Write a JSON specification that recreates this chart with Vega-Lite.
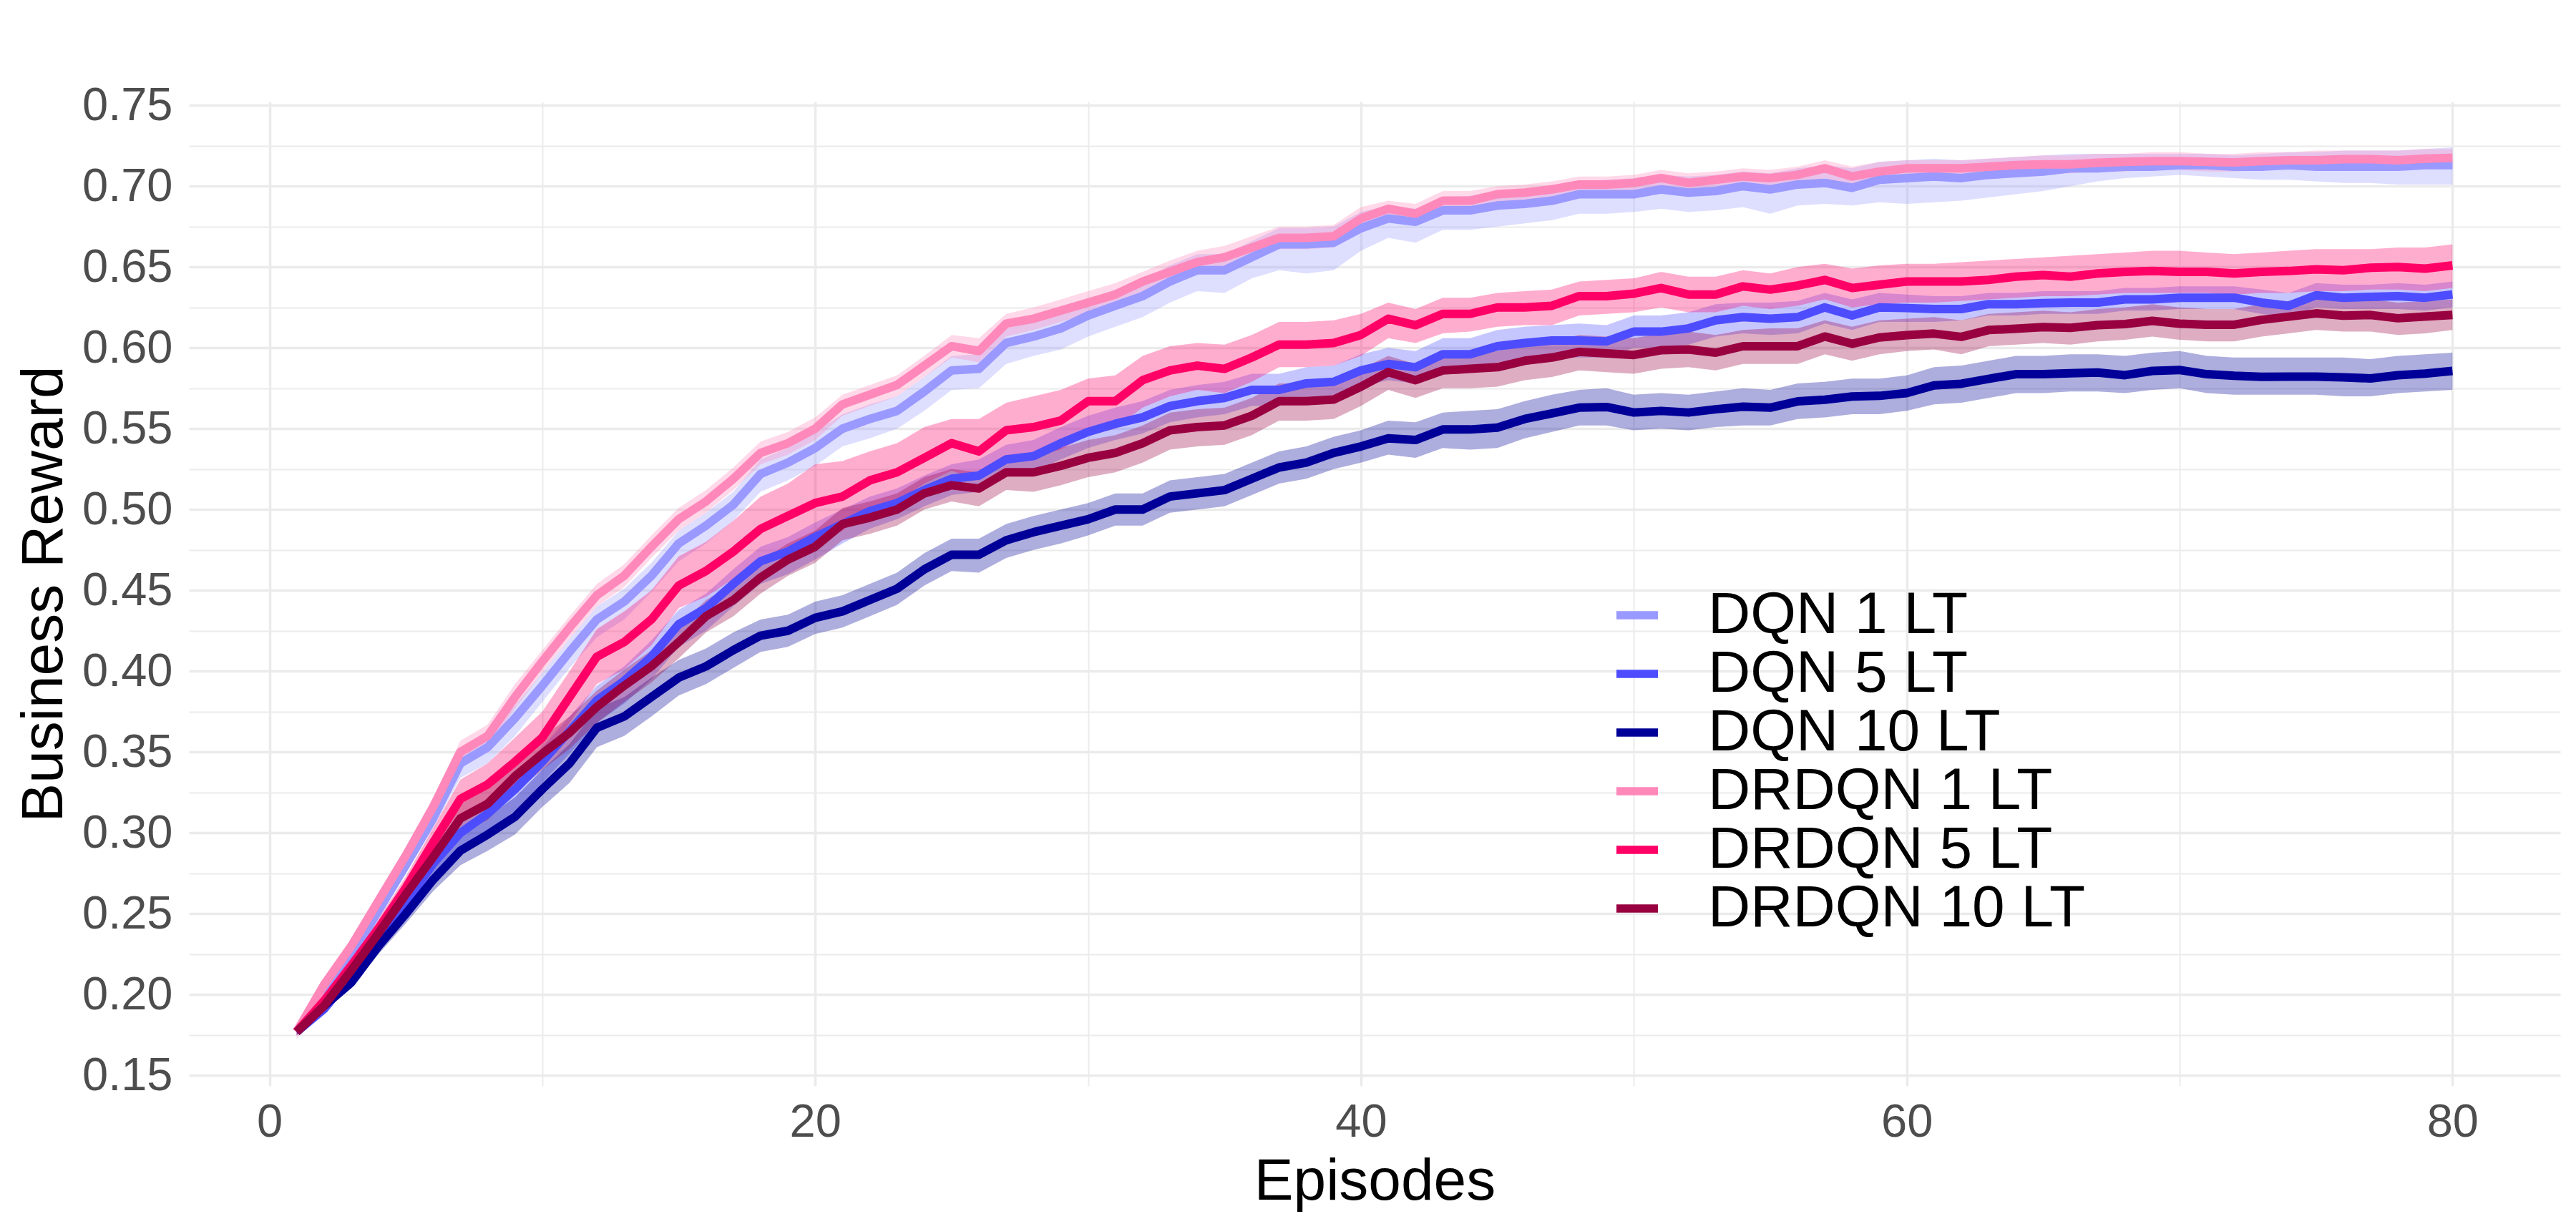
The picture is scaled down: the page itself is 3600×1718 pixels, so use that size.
{
"$schema": "https://vega.github.io/schema/vega-lite/v6.json",
"width": 3314, "height": 1376,
"autosize": {"type": "none"},
"padding": {"left": 264, "top": 142, "right": 22, "bottom": 200},
"background": "white",
"config": {
  "view": {"stroke": null},
  "axis": {"domain": false, "ticks": false, "tickSize": 0, "labelFont": "Liberation Sans", "labelFontSize": 65, "labelColor": "#4D4D4D", "titleFont": "Liberation Sans", "titleFontSize": 82, "titleFontWeight": "normal", "titleColor": "black", "gridColor": "#EBEBEB", "labelOverlap": false, "labelFlush": false},
  "legend": {"title": null, "orient": "none", "legendX": 1983, "legendY": 677, "symbolType": "stroke", "symbolSize": 3364, "symbolStrokeWidth": 11.5, "symbolOpacity": 1, "labelFont": "Liberation Sans", "labelFontSize": 82, "labelColor": "black", "labelOffset": 58, "rowPadding": -5, "padding": 0, "labelLimit": 0}
},
"datasets": {"d": [
{"s":"DQN 1 LT","e":1,"m":0.177,"l":0.174,"h":0.179},
{"s":"DQN 1 LT","e":2,"m":0.200,"l":0.197,"h":0.203},
{"s":"DQN 1 LT","e":3,"m":0.224,"l":0.220,"h":0.227},
{"s":"DQN 1 LT","e":4,"m":0.252,"l":0.248,"h":0.256},
{"s":"DQN 1 LT","e":5,"m":0.280,"l":0.275,"h":0.284},
{"s":"DQN 1 LT","e":6,"m":0.309,"l":0.303,"h":0.315},
{"s":"DQN 1 LT","e":7,"m":0.343,"l":0.334,"h":0.350},
{"s":"DQN 1 LT","e":8,"m":0.353,"l":0.343,"h":0.361},
{"s":"DQN 1 LT","e":9,"m":0.371,"l":0.360,"h":0.379},
{"s":"DQN 1 LT","e":10,"m":0.391,"l":0.381,"h":0.399},
{"s":"DQN 1 LT","e":11,"m":0.412,"l":0.402,"h":0.420},
{"s":"DQN 1 LT","e":12,"m":0.432,"l":0.421,"h":0.440},
{"s":"DQN 1 LT","e":13,"m":0.443,"l":0.432,"h":0.451},
{"s":"DQN 1 LT","e":14,"m":0.459,"l":0.449,"h":0.467},
{"s":"DQN 1 LT","e":15,"m":0.479,"l":0.468,"h":0.487},
{"s":"DQN 1 LT","e":16,"m":0.490,"l":0.479,"h":0.498},
{"s":"DQN 1 LT","e":17,"m":0.503,"l":0.493,"h":0.511},
{"s":"DQN 1 LT","e":18,"m":0.522,"l":0.511,"h":0.531},
{"s":"DQN 1 LT","e":19,"m":0.529,"l":0.518,"h":0.538},
{"s":"DQN 1 LT","e":20,"m":0.538,"l":0.527,"h":0.548},
{"s":"DQN 1 LT","e":21,"m":0.550,"l":0.539,"h":0.559},
{"s":"DQN 1 LT","e":22,"m":0.556,"l":0.544,"h":0.565},
{"s":"DQN 1 LT","e":23,"m":0.561,"l":0.550,"h":0.570},
{"s":"DQN 1 LT","e":24,"m":0.573,"l":0.561,"h":0.582},
{"s":"DQN 1 LT","e":25,"m":0.586,"l":0.574,"h":0.595},
{"s":"DQN 1 LT","e":26,"m":0.587,"l":0.575,"h":0.596},
{"s":"DQN 1 LT","e":27,"m":0.603,"l":0.590,"h":0.612},
{"s":"DQN 1 LT","e":28,"m":0.607,"l":0.595,"h":0.616},
{"s":"DQN 1 LT","e":29,"m":0.612,"l":0.599,"h":0.621},
{"s":"DQN 1 LT","e":30,"m":0.620,"l":0.607,"h":0.630},
{"s":"DQN 1 LT","e":31,"m":0.626,"l":0.613,"h":0.636},
{"s":"DQN 1 LT","e":32,"m":0.632,"l":0.619,"h":0.642},
{"s":"DQN 1 LT","e":33,"m":0.641,"l":0.628,"h":0.651},
{"s":"DQN 1 LT","e":34,"m":0.648,"l":0.635,"h":0.658},
{"s":"DQN 1 LT","e":35,"m":0.648,"l":0.634,"h":0.658},
{"s":"DQN 1 LT","e":36,"m":0.656,"l":0.643,"h":0.666},
{"s":"DQN 1 LT","e":37,"m":0.664,"l":0.648,"h":0.674},
{"s":"DQN 1 LT","e":38,"m":0.664,"l":0.646,"h":0.674},
{"s":"DQN 1 LT","e":39,"m":0.665,"l":0.648,"h":0.675},
{"s":"DQN 1 LT","e":40,"m":0.674,"l":0.660,"h":0.684},
{"s":"DQN 1 LT","e":41,"m":0.680,"l":0.668,"h":0.688},
{"s":"DQN 1 LT","e":42,"m":0.678,"l":0.665,"h":0.686},
{"s":"DQN 1 LT","e":43,"m":0.685,"l":0.673,"h":0.693},
{"s":"DQN 1 LT","e":44,"m":0.685,"l":0.673,"h":0.694},
{"s":"DQN 1 LT","e":45,"m":0.688,"l":0.675,"h":0.697},
{"s":"DQN 1 LT","e":46,"m":0.689,"l":0.677,"h":0.698},
{"s":"DQN 1 LT","e":47,"m":0.691,"l":0.679,"h":0.700},
{"s":"DQN 1 LT","e":48,"m":0.695,"l":0.683,"h":0.703},
{"s":"DQN 1 LT","e":49,"m":0.695,"l":0.683,"h":0.704},
{"s":"DQN 1 LT","e":50,"m":0.695,"l":0.684,"h":0.705},
{"s":"DQN 1 LT","e":51,"m":0.698,"l":0.686,"h":0.707},
{"s":"DQN 1 LT","e":52,"m":0.696,"l":0.684,"h":0.706},
{"s":"DQN 1 LT","e":53,"m":0.697,"l":0.685,"h":0.707},
{"s":"DQN 1 LT","e":54,"m":0.700,"l":0.687,"h":0.709},
{"s":"DQN 1 LT","e":55,"m":0.698,"l":0.683,"h":0.708},
{"s":"DQN 1 LT","e":56,"m":0.701,"l":0.688,"h":0.711},
{"s":"DQN 1 LT","e":57,"m":0.702,"l":0.689,"h":0.713},
{"s":"DQN 1 LT","e":58,"m":0.699,"l":0.688,"h":0.711},
{"s":"DQN 1 LT","e":59,"m":0.704,"l":0.690,"h":0.715},
{"s":"DQN 1 LT","e":60,"m":0.705,"l":0.689,"h":0.716},
{"s":"DQN 1 LT","e":61,"m":0.706,"l":0.690,"h":0.717},
{"s":"DQN 1 LT","e":62,"m":0.705,"l":0.691,"h":0.716},
{"s":"DQN 1 LT","e":63,"m":0.707,"l":0.693,"h":0.717},
{"s":"DQN 1 LT","e":64,"m":0.708,"l":0.695,"h":0.718},
{"s":"DQN 1 LT","e":65,"m":0.709,"l":0.697,"h":0.719},
{"s":"DQN 1 LT","e":66,"m":0.711,"l":0.700,"h":0.720},
{"s":"DQN 1 LT","e":67,"m":0.711,"l":0.703,"h":0.720},
{"s":"DQN 1 LT","e":68,"m":0.712,"l":0.705,"h":0.720},
{"s":"DQN 1 LT","e":69,"m":0.712,"l":0.706,"h":0.720},
{"s":"DQN 1 LT","e":70,"m":0.713,"l":0.707,"h":0.720},
{"s":"DQN 1 LT","e":71,"m":0.713,"l":0.706,"h":0.720},
{"s":"DQN 1 LT","e":72,"m":0.712,"l":0.705,"h":0.719},
{"s":"DQN 1 LT","e":73,"m":0.712,"l":0.704,"h":0.720},
{"s":"DQN 1 LT","e":74,"m":0.713,"l":0.704,"h":0.721},
{"s":"DQN 1 LT","e":75,"m":0.712,"l":0.703,"h":0.721},
{"s":"DQN 1 LT","e":76,"m":0.712,"l":0.702,"h":0.722},
{"s":"DQN 1 LT","e":77,"m":0.712,"l":0.702,"h":0.722},
{"s":"DQN 1 LT","e":78,"m":0.712,"l":0.701,"h":0.722},
{"s":"DQN 1 LT","e":79,"m":0.713,"l":0.701,"h":0.723},
{"s":"DQN 1 LT","e":80,"m":0.713,"l":0.701,"h":0.724},
{"s":"DQN 5 LT","e":1,"m":0.177,"l":0.175,"h":0.179},
{"s":"DQN 5 LT","e":2,"m":0.191,"l":0.188,"h":0.194},
{"s":"DQN 5 LT","e":3,"m":0.212,"l":0.208,"h":0.216},
{"s":"DQN 5 LT","e":4,"m":0.234,"l":0.229,"h":0.239},
{"s":"DQN 5 LT","e":5,"m":0.257,"l":0.251,"h":0.263},
{"s":"DQN 5 LT","e":6,"m":0.281,"l":0.273,"h":0.288},
{"s":"DQN 5 LT","e":7,"m":0.300,"l":0.290,"h":0.309},
{"s":"DQN 5 LT","e":8,"m":0.312,"l":0.299,"h":0.321},
{"s":"DQN 5 LT","e":9,"m":0.327,"l":0.314,"h":0.336},
{"s":"DQN 5 LT","e":10,"m":0.344,"l":0.331,"h":0.353},
{"s":"DQN 5 LT","e":11,"m":0.363,"l":0.349,"h":0.372},
{"s":"DQN 5 LT","e":12,"m":0.382,"l":0.368,"h":0.391},
{"s":"DQN 5 LT","e":13,"m":0.394,"l":0.380,"h":0.403},
{"s":"DQN 5 LT","e":14,"m":0.409,"l":0.395,"h":0.419},
{"s":"DQN 5 LT","e":15,"m":0.429,"l":0.415,"h":0.438},
{"s":"DQN 5 LT","e":16,"m":0.439,"l":0.425,"h":0.448},
{"s":"DQN 5 LT","e":17,"m":0.454,"l":0.440,"h":0.463},
{"s":"DQN 5 LT","e":18,"m":0.468,"l":0.454,"h":0.477},
{"s":"DQN 5 LT","e":19,"m":0.474,"l":0.460,"h":0.483},
{"s":"DQN 5 LT","e":20,"m":0.483,"l":0.469,"h":0.492},
{"s":"DQN 5 LT","e":21,"m":0.491,"l":0.479,"h":0.500},
{"s":"DQN 5 LT","e":22,"m":0.499,"l":0.488,"h":0.508},
{"s":"DQN 5 LT","e":23,"m":0.504,"l":0.494,"h":0.513},
{"s":"DQN 5 LT","e":24,"m":0.512,"l":0.502,"h":0.521},
{"s":"DQN 5 LT","e":25,"m":0.519,"l":0.509,"h":0.528},
{"s":"DQN 5 LT","e":26,"m":0.521,"l":0.511,"h":0.531},
{"s":"DQN 5 LT","e":27,"m":0.531,"l":0.521,"h":0.540},
{"s":"DQN 5 LT","e":28,"m":0.533,"l":0.523,"h":0.543},
{"s":"DQN 5 LT","e":29,"m":0.541,"l":0.531,"h":0.551},
{"s":"DQN 5 LT","e":30,"m":0.548,"l":0.538,"h":0.558},
{"s":"DQN 5 LT","e":31,"m":0.553,"l":0.543,"h":0.563},
{"s":"DQN 5 LT","e":32,"m":0.557,"l":0.547,"h":0.567},
{"s":"DQN 5 LT","e":33,"m":0.564,"l":0.554,"h":0.574},
{"s":"DQN 5 LT","e":34,"m":0.567,"l":0.557,"h":0.577},
{"s":"DQN 5 LT","e":35,"m":0.569,"l":0.559,"h":0.579},
{"s":"DQN 5 LT","e":36,"m":0.574,"l":0.564,"h":0.584},
{"s":"DQN 5 LT","e":37,"m":0.574,"l":0.564,"h":0.584},
{"s":"DQN 5 LT","e":38,"m":0.578,"l":0.568,"h":0.588},
{"s":"DQN 5 LT","e":39,"m":0.579,"l":0.569,"h":0.589},
{"s":"DQN 5 LT","e":40,"m":0.586,"l":0.576,"h":0.596},
{"s":"DQN 5 LT","e":41,"m":0.590,"l":0.580,"h":0.600},
{"s":"DQN 5 LT","e":42,"m":0.588,"l":0.578,"h":0.598},
{"s":"DQN 5 LT","e":43,"m":0.596,"l":0.586,"h":0.606},
{"s":"DQN 5 LT","e":44,"m":0.596,"l":0.586,"h":0.606},
{"s":"DQN 5 LT","e":45,"m":0.601,"l":0.591,"h":0.611},
{"s":"DQN 5 LT","e":46,"m":0.603,"l":0.593,"h":0.613},
{"s":"DQN 5 LT","e":47,"m":0.6045,"l":0.594,"h":0.614},
{"s":"DQN 5 LT","e":48,"m":0.6045,"l":0.594,"h":0.615},
{"s":"DQN 5 LT","e":49,"m":0.604,"l":0.594,"h":0.614},
{"s":"DQN 5 LT","e":50,"m":0.610,"l":0.600,"h":0.620},
{"s":"DQN 5 LT","e":51,"m":0.610,"l":0.600,"h":0.620},
{"s":"DQN 5 LT","e":52,"m":0.612,"l":0.602,"h":0.622},
{"s":"DQN 5 LT","e":53,"m":0.617,"l":0.607,"h":0.627},
{"s":"DQN 5 LT","e":54,"m":0.619,"l":0.609,"h":0.628},
{"s":"DQN 5 LT","e":55,"m":0.618,"l":0.608,"h":0.628},
{"s":"DQN 5 LT","e":56,"m":0.619,"l":0.609,"h":0.629},
{"s":"DQN 5 LT","e":57,"m":0.625,"l":0.615,"h":0.634},
{"s":"DQN 5 LT","e":58,"m":0.620,"l":0.611,"h":0.630},
{"s":"DQN 5 LT","e":59,"m":0.625,"l":0.616,"h":0.634},
{"s":"DQN 5 LT","e":60,"m":0.6246,"l":0.616,"h":0.633},
{"s":"DQN 5 LT","e":61,"m":0.624,"l":0.616,"h":0.632},
{"s":"DQN 5 LT","e":62,"m":0.624,"l":0.617,"h":0.632},
{"s":"DQN 5 LT","e":63,"m":0.627,"l":0.620,"h":0.634},
{"s":"DQN 5 LT","e":64,"m":0.627,"l":0.620,"h":0.634},
{"s":"DQN 5 LT","e":65,"m":0.6276,"l":0.621,"h":0.635},
{"s":"DQN 5 LT","e":66,"m":0.628,"l":0.621,"h":0.635},
{"s":"DQN 5 LT","e":67,"m":0.628,"l":0.621,"h":0.635},
{"s":"DQN 5 LT","e":68,"m":0.630,"l":0.623,"h":0.637},
{"s":"DQN 5 LT","e":69,"m":0.630,"l":0.623,"h":0.637},
{"s":"DQN 5 LT","e":70,"m":0.631,"l":0.624,"h":0.638},
{"s":"DQN 5 LT","e":71,"m":0.631,"l":0.624,"h":0.638},
{"s":"DQN 5 LT","e":72,"m":0.631,"l":0.624,"h":0.638},
{"s":"DQN 5 LT","e":73,"m":0.628,"l":0.621,"h":0.636},
{"s":"DQN 5 LT","e":74,"m":0.626,"l":0.619,"h":0.634},
{"s":"DQN 5 LT","e":75,"m":0.6325,"l":0.625,"h":0.640},
{"s":"DQN 5 LT","e":76,"m":0.631,"l":0.624,"h":0.639},
{"s":"DQN 5 LT","e":77,"m":0.6315,"l":0.624,"h":0.639},
{"s":"DQN 5 LT","e":78,"m":0.632,"l":0.624,"h":0.640},
{"s":"DQN 5 LT","e":79,"m":0.631,"l":0.623,"h":0.639},
{"s":"DQN 5 LT","e":80,"m":0.633,"l":0.625,"h":0.641},
{"s":"DQN 10 LT","e":1,"m":0.177,"l":0.175,"h":0.179},
{"s":"DQN 10 LT","e":2,"m":0.193,"l":0.190,"h":0.196},
{"s":"DQN 10 LT","e":3,"m":0.2075,"l":0.204,"h":0.211},
{"s":"DQN 10 LT","e":4,"m":0.230,"l":0.225,"h":0.235},
{"s":"DQN 10 LT","e":5,"m":0.250,"l":0.244,"h":0.256},
{"s":"DQN 10 LT","e":6,"m":0.271,"l":0.264,"h":0.278},
{"s":"DQN 10 LT","e":7,"m":0.289,"l":0.280,"h":0.298},
{"s":"DQN 10 LT","e":8,"m":0.299,"l":0.289,"h":0.310},
{"s":"DQN 10 LT","e":9,"m":0.310,"l":0.299,"h":0.322},
{"s":"DQN 10 LT","e":10,"m":0.327,"l":0.316,"h":0.339},
{"s":"DQN 10 LT","e":11,"m":0.343,"l":0.331,"h":0.355},
{"s":"DQN 10 LT","e":12,"m":0.365,"l":0.353,"h":0.377},
{"s":"DQN 10 LT","e":13,"m":0.372,"l":0.360,"h":0.384},
{"s":"DQN 10 LT","e":14,"m":0.384,"l":0.372,"h":0.396},
{"s":"DQN 10 LT","e":15,"m":0.396,"l":0.385,"h":0.407},
{"s":"DQN 10 LT","e":16,"m":0.403,"l":0.392,"h":0.414},
{"s":"DQN 10 LT","e":17,"m":0.413,"l":0.402,"h":0.424},
{"s":"DQN 10 LT","e":18,"m":0.422,"l":0.412,"h":0.432},
{"s":"DQN 10 LT","e":19,"m":0.425,"l":0.415,"h":0.435},
{"s":"DQN 10 LT","e":20,"m":0.433,"l":0.423,"h":0.443},
{"s":"DQN 10 LT","e":21,"m":0.437,"l":0.427,"h":0.447},
{"s":"DQN 10 LT","e":22,"m":0.444,"l":0.434,"h":0.454},
{"s":"DQN 10 LT","e":23,"m":0.451,"l":0.441,"h":0.461},
{"s":"DQN 10 LT","e":24,"m":0.463,"l":0.453,"h":0.473},
{"s":"DQN 10 LT","e":25,"m":0.472,"l":0.462,"h":0.482},
{"s":"DQN 10 LT","e":26,"m":0.472,"l":0.461,"h":0.482},
{"s":"DQN 10 LT","e":27,"m":0.481,"l":0.470,"h":0.491},
{"s":"DQN 10 LT","e":28,"m":0.486,"l":0.475,"h":0.496},
{"s":"DQN 10 LT","e":29,"m":0.490,"l":0.479,"h":0.500},
{"s":"DQN 10 LT","e":30,"m":0.494,"l":0.484,"h":0.504},
{"s":"DQN 10 LT","e":31,"m":0.500,"l":0.490,"h":0.510},
{"s":"DQN 10 LT","e":32,"m":0.500,"l":0.490,"h":0.510},
{"s":"DQN 10 LT","e":33,"m":0.508,"l":0.498,"h":0.518},
{"s":"DQN 10 LT","e":34,"m":0.510,"l":0.500,"h":0.520},
{"s":"DQN 10 LT","e":35,"m":0.512,"l":0.502,"h":0.522},
{"s":"DQN 10 LT","e":36,"m":0.519,"l":0.509,"h":0.529},
{"s":"DQN 10 LT","e":37,"m":0.526,"l":0.516,"h":0.536},
{"s":"DQN 10 LT","e":38,"m":0.529,"l":0.519,"h":0.539},
{"s":"DQN 10 LT","e":39,"m":0.535,"l":0.525,"h":0.545},
{"s":"DQN 10 LT","e":40,"m":0.539,"l":0.529,"h":0.549},
{"s":"DQN 10 LT","e":41,"m":0.544,"l":0.534,"h":0.555},
{"s":"DQN 10 LT","e":42,"m":0.543,"l":0.532,"h":0.554},
{"s":"DQN 10 LT","e":43,"m":0.5495,"l":0.538,"h":0.560},
{"s":"DQN 10 LT","e":44,"m":0.5495,"l":0.537,"h":0.561},
{"s":"DQN 10 LT","e":45,"m":0.5507,"l":0.538,"h":0.562},
{"s":"DQN 10 LT","e":46,"m":0.556,"l":0.544,"h":0.567},
{"s":"DQN 10 LT","e":47,"m":0.5594,"l":0.548,"h":0.571},
{"s":"DQN 10 LT","e":48,"m":0.563,"l":0.552,"h":0.574},
{"s":"DQN 10 LT","e":49,"m":0.5634,"l":0.552,"h":0.575},
{"s":"DQN 10 LT","e":50,"m":0.560,"l":0.549,"h":0.571},
{"s":"DQN 10 LT","e":51,"m":0.561,"l":0.550,"h":0.572},
{"s":"DQN 10 LT","e":52,"m":0.560,"l":0.549,"h":0.571},
{"s":"DQN 10 LT","e":53,"m":0.562,"l":0.551,"h":0.573},
{"s":"DQN 10 LT","e":54,"m":0.5636,"l":0.552,"h":0.575},
{"s":"DQN 10 LT","e":55,"m":0.563,"l":0.552,"h":0.574},
{"s":"DQN 10 LT","e":56,"m":0.5669,"l":0.556,"h":0.578},
{"s":"DQN 10 LT","e":57,"m":0.5679,"l":0.557,"h":0.579},
{"s":"DQN 10 LT","e":58,"m":0.5699,"l":0.559,"h":0.581},
{"s":"DQN 10 LT","e":59,"m":0.5703,"l":0.559,"h":0.581},
{"s":"DQN 10 LT","e":60,"m":0.572,"l":0.561,"h":0.583},
{"s":"DQN 10 LT","e":61,"m":0.5768,"l":0.565,"h":0.588},
{"s":"DQN 10 LT","e":62,"m":0.5778,"l":0.566,"h":0.589},
{"s":"DQN 10 LT","e":63,"m":0.5808,"l":0.569,"h":0.592},
{"s":"DQN 10 LT","e":64,"m":0.5837,"l":0.572,"h":0.595},
{"s":"DQN 10 LT","e":65,"m":0.5837,"l":0.572,"h":0.595},
{"s":"DQN 10 LT","e":66,"m":0.5843,"l":0.573,"h":0.596},
{"s":"DQN 10 LT","e":67,"m":0.5847,"l":0.573,"h":0.596},
{"s":"DQN 10 LT","e":68,"m":0.5831,"l":0.572,"h":0.595},
{"s":"DQN 10 LT","e":69,"m":0.5857,"l":0.574,"h":0.597},
{"s":"DQN 10 LT","e":70,"m":0.5863,"l":0.575,"h":0.598},
{"s":"DQN 10 LT","e":71,"m":0.5837,"l":0.572,"h":0.595},
{"s":"DQN 10 LT","e":72,"m":0.5827,"l":0.571,"h":0.594},
{"s":"DQN 10 LT","e":73,"m":0.5821,"l":0.571,"h":0.594},
{"s":"DQN 10 LT","e":74,"m":0.5822,"l":0.571,"h":0.594},
{"s":"DQN 10 LT","e":75,"m":0.5822,"l":0.571,"h":0.594},
{"s":"DQN 10 LT","e":76,"m":0.5817,"l":0.570,"h":0.594},
{"s":"DQN 10 LT","e":77,"m":0.5811,"l":0.570,"h":0.593},
{"s":"DQN 10 LT","e":78,"m":0.5831,"l":0.572,"h":0.595},
{"s":"DQN 10 LT","e":79,"m":0.5841,"l":0.573,"h":0.596},
{"s":"DQN 10 LT","e":80,"m":0.5857,"l":0.574,"h":0.597},
{"s":"DRDQN 1 LT","e":1,"m":0.177,"l":0.172,"h":0.179},
{"s":"DRDQN 1 LT","e":2,"m":0.206,"l":0.202,"h":0.210},
{"s":"DRDQN 1 LT","e":3,"m":0.230,"l":0.226,"h":0.234},
{"s":"DRDQN 1 LT","e":4,"m":0.258,"l":0.253,"h":0.263},
{"s":"DRDQN 1 LT","e":5,"m":0.286,"l":0.281,"h":0.291},
{"s":"DRDQN 1 LT","e":6,"m":0.316,"l":0.310,"h":0.322},
{"s":"DRDQN 1 LT","e":7,"m":0.350,"l":0.344,"h":0.357},
{"s":"DRDQN 1 LT","e":8,"m":0.360,"l":0.353,"h":0.367},
{"s":"DRDQN 1 LT","e":9,"m":0.384,"l":0.377,"h":0.392},
{"s":"DRDQN 1 LT","e":10,"m":0.406,"l":0.399,"h":0.413},
{"s":"DRDQN 1 LT","e":11,"m":0.427,"l":0.420,"h":0.434},
{"s":"DRDQN 1 LT","e":12,"m":0.447,"l":0.440,"h":0.454},
{"s":"DRDQN 1 LT","e":13,"m":0.459,"l":0.452,"h":0.466},
{"s":"DRDQN 1 LT","e":14,"m":0.477,"l":0.470,"h":0.484},
{"s":"DRDQN 1 LT","e":15,"m":0.494,"l":0.487,"h":0.501},
{"s":"DRDQN 1 LT","e":16,"m":0.505,"l":0.498,"h":0.512},
{"s":"DRDQN 1 LT","e":17,"m":0.519,"l":0.512,"h":0.526},
{"s":"DRDQN 1 LT","e":18,"m":0.535,"l":0.528,"h":0.542},
{"s":"DRDQN 1 LT","e":19,"m":0.541,"l":0.534,"h":0.548},
{"s":"DRDQN 1 LT","e":20,"m":0.550,"l":0.543,"h":0.557},
{"s":"DRDQN 1 LT","e":21,"m":0.565,"l":0.558,"h":0.571},
{"s":"DRDQN 1 LT","e":22,"m":0.571,"l":0.564,"h":0.577},
{"s":"DRDQN 1 LT","e":23,"m":0.577,"l":0.570,"h":0.583},
{"s":"DRDQN 1 LT","e":24,"m":0.589,"l":0.582,"h":0.595},
{"s":"DRDQN 1 LT","e":25,"m":0.601,"l":0.594,"h":0.608},
{"s":"DRDQN 1 LT","e":26,"m":0.598,"l":0.591,"h":0.606},
{"s":"DRDQN 1 LT","e":27,"m":0.615,"l":0.607,"h":0.621},
{"s":"DRDQN 1 LT","e":28,"m":0.618,"l":0.611,"h":0.625},
{"s":"DRDQN 1 LT","e":29,"m":0.623,"l":0.616,"h":0.630},
{"s":"DRDQN 1 LT","e":30,"m":0.628,"l":0.621,"h":0.635},
{"s":"DRDQN 1 LT","e":31,"m":0.633,"l":0.626,"h":0.640},
{"s":"DRDQN 1 LT","e":32,"m":0.641,"l":0.634,"h":0.647},
{"s":"DRDQN 1 LT","e":33,"m":0.647,"l":0.640,"h":0.654},
{"s":"DRDQN 1 LT","e":34,"m":0.653,"l":0.646,"h":0.660},
{"s":"DRDQN 1 LT","e":35,"m":0.656,"l":0.649,"h":0.663},
{"s":"DRDQN 1 LT","e":36,"m":0.662,"l":0.655,"h":0.669},
{"s":"DRDQN 1 LT","e":37,"m":0.668,"l":0.661,"h":0.675},
{"s":"DRDQN 1 LT","e":38,"m":0.668,"l":0.661,"h":0.675},
{"s":"DRDQN 1 LT","e":39,"m":0.669,"l":0.662,"h":0.676},
{"s":"DRDQN 1 LT","e":40,"m":0.680,"l":0.673,"h":0.687},
{"s":"DRDQN 1 LT","e":41,"m":0.686,"l":0.680,"h":0.691},
{"s":"DRDQN 1 LT","e":42,"m":0.683,"l":0.677,"h":0.689},
{"s":"DRDQN 1 LT","e":43,"m":0.691,"l":0.685,"h":0.697},
{"s":"DRDQN 1 LT","e":44,"m":0.691,"l":0.685,"h":0.697},
{"s":"DRDQN 1 LT","e":45,"m":0.695,"l":0.689,"h":0.700},
{"s":"DRDQN 1 LT","e":46,"m":0.696,"l":0.690,"h":0.701},
{"s":"DRDQN 1 LT","e":47,"m":0.698,"l":0.692,"h":0.703},
{"s":"DRDQN 1 LT","e":48,"m":0.701,"l":0.695,"h":0.706},
{"s":"DRDQN 1 LT","e":49,"m":0.701,"l":0.695,"h":0.706},
{"s":"DRDQN 1 LT","e":50,"m":0.702,"l":0.696,"h":0.707},
{"s":"DRDQN 1 LT","e":51,"m":0.705,"l":0.699,"h":0.710},
{"s":"DRDQN 1 LT","e":52,"m":0.702,"l":0.696,"h":0.708},
{"s":"DRDQN 1 LT","e":53,"m":0.704,"l":0.698,"h":0.709},
{"s":"DRDQN 1 LT","e":54,"m":0.706,"l":0.700,"h":0.711},
{"s":"DRDQN 1 LT","e":55,"m":0.705,"l":0.699,"h":0.710},
{"s":"DRDQN 1 LT","e":56,"m":0.707,"l":0.701,"h":0.712},
{"s":"DRDQN 1 LT","e":57,"m":0.711,"l":0.705,"h":0.716},
{"s":"DRDQN 1 LT","e":58,"m":0.706,"l":0.700,"h":0.712},
{"s":"DRDQN 1 LT","e":59,"m":0.709,"l":0.703,"h":0.715},
{"s":"DRDQN 1 LT","e":60,"m":0.711,"l":0.705,"h":0.716},
{"s":"DRDQN 1 LT","e":61,"m":0.711,"l":0.705,"h":0.716},
{"s":"DRDQN 1 LT","e":62,"m":0.711,"l":0.705,"h":0.716},
{"s":"DRDQN 1 LT","e":63,"m":0.712,"l":0.706,"h":0.717},
{"s":"DRDQN 1 LT","e":64,"m":0.713,"l":0.707,"h":0.718},
{"s":"DRDQN 1 LT","e":65,"m":0.7135,"l":0.708,"h":0.719},
{"s":"DRDQN 1 LT","e":66,"m":0.7135,"l":0.708,"h":0.719},
{"s":"DRDQN 1 LT","e":67,"m":0.7145,"l":0.709,"h":0.720},
{"s":"DRDQN 1 LT","e":68,"m":0.715,"l":0.709,"h":0.720},
{"s":"DRDQN 1 LT","e":69,"m":0.7155,"l":0.710,"h":0.721},
{"s":"DRDQN 1 LT","e":70,"m":0.7155,"l":0.710,"h":0.721},
{"s":"DRDQN 1 LT","e":71,"m":0.715,"l":0.709,"h":0.720},
{"s":"DRDQN 1 LT","e":72,"m":0.7147,"l":0.709,"h":0.720},
{"s":"DRDQN 1 LT","e":73,"m":0.7155,"l":0.710,"h":0.721},
{"s":"DRDQN 1 LT","e":74,"m":0.716,"l":0.710,"h":0.721},
{"s":"DRDQN 1 LT","e":75,"m":0.716,"l":0.710,"h":0.722},
{"s":"DRDQN 1 LT","e":76,"m":0.7167,"l":0.711,"h":0.722},
{"s":"DRDQN 1 LT","e":77,"m":0.7167,"l":0.711,"h":0.722},
{"s":"DRDQN 1 LT","e":78,"m":0.716,"l":0.710,"h":0.722},
{"s":"DRDQN 1 LT","e":79,"m":0.717,"l":0.711,"h":0.723},
{"s":"DRDQN 1 LT","e":80,"m":0.7175,"l":0.711,"h":0.723},
{"s":"DRDQN 5 LT","e":1,"m":0.177,"l":0.175,"h":0.179},
{"s":"DRDQN 5 LT","e":2,"m":0.196,"l":0.192,"h":0.200},
{"s":"DRDQN 5 LT","e":3,"m":0.218,"l":0.213,"h":0.223},
{"s":"DRDQN 5 LT","e":4,"m":0.241,"l":0.235,"h":0.247},
{"s":"DRDQN 5 LT","e":5,"m":0.266,"l":0.259,"h":0.273},
{"s":"DRDQN 5 LT","e":6,"m":0.294,"l":0.285,"h":0.303},
{"s":"DRDQN 5 LT","e":7,"m":0.321,"l":0.310,"h":0.333},
{"s":"DRDQN 5 LT","e":8,"m":0.330,"l":0.317,"h":0.343},
{"s":"DRDQN 5 LT","e":9,"m":0.344,"l":0.330,"h":0.359},
{"s":"DRDQN 5 LT","e":10,"m":0.359,"l":0.344,"h":0.375},
{"s":"DRDQN 5 LT","e":11,"m":0.384,"l":0.368,"h":0.400},
{"s":"DRDQN 5 LT","e":12,"m":0.409,"l":0.392,"h":0.426},
{"s":"DRDQN 5 LT","e":13,"m":0.418,"l":0.401,"h":0.437},
{"s":"DRDQN 5 LT","e":14,"m":0.432,"l":0.416,"h":0.450},
{"s":"DRDQN 5 LT","e":15,"m":0.453,"l":0.439,"h":0.471},
{"s":"DRDQN 5 LT","e":16,"m":0.462,"l":0.446,"h":0.480},
{"s":"DRDQN 5 LT","e":17,"m":0.474,"l":0.457,"h":0.493},
{"s":"DRDQN 5 LT","e":18,"m":0.488,"l":0.470,"h":0.508},
{"s":"DRDQN 5 LT","e":19,"m":0.496,"l":0.477,"h":0.516},
{"s":"DRDQN 5 LT","e":20,"m":0.504,"l":0.481,"h":0.528},
{"s":"DRDQN 5 LT","e":21,"m":0.508,"l":0.487,"h":0.530},
{"s":"DRDQN 5 LT","e":22,"m":0.518,"l":0.499,"h":0.536},
{"s":"DRDQN 5 LT","e":23,"m":0.523,"l":0.505,"h":0.541},
{"s":"DRDQN 5 LT","e":24,"m":0.532,"l":0.516,"h":0.551},
{"s":"DRDQN 5 LT","e":25,"m":0.541,"l":0.524,"h":0.556},
{"s":"DRDQN 5 LT","e":26,"m":0.536,"l":0.518,"h":0.556},
{"s":"DRDQN 5 LT","e":27,"m":0.549,"l":0.531,"h":0.566},
{"s":"DRDQN 5 LT","e":28,"m":0.551,"l":0.533,"h":0.570},
{"s":"DRDQN 5 LT","e":29,"m":0.555,"l":0.537,"h":0.574},
{"s":"DRDQN 5 LT","e":30,"m":0.567,"l":0.546,"h":0.581},
{"s":"DRDQN 5 LT","e":31,"m":0.567,"l":0.550,"h":0.583},
{"s":"DRDQN 5 LT","e":32,"m":0.580,"l":0.563,"h":0.595},
{"s":"DRDQN 5 LT","e":33,"m":0.586,"l":0.570,"h":0.601},
{"s":"DRDQN 5 LT","e":34,"m":0.589,"l":0.574,"h":0.603},
{"s":"DRDQN 5 LT","e":35,"m":0.587,"l":0.572,"h":0.602},
{"s":"DRDQN 5 LT","e":36,"m":0.594,"l":0.579,"h":0.608},
{"s":"DRDQN 5 LT","e":37,"m":0.602,"l":0.588,"h":0.616},
{"s":"DRDQN 5 LT","e":38,"m":0.602,"l":0.588,"h":0.616},
{"s":"DRDQN 5 LT","e":39,"m":0.603,"l":0.589,"h":0.617},
{"s":"DRDQN 5 LT","e":40,"m":0.608,"l":0.595,"h":0.621},
{"s":"DRDQN 5 LT","e":41,"m":0.618,"l":0.606,"h":0.628},
{"s":"DRDQN 5 LT","e":42,"m":0.614,"l":0.603,"h":0.624},
{"s":"DRDQN 5 LT","e":43,"m":0.621,"l":0.609,"h":0.631},
{"s":"DRDQN 5 LT","e":44,"m":0.621,"l":0.610,"h":0.631},
{"s":"DRDQN 5 LT","e":45,"m":0.625,"l":0.613,"h":0.634},
{"s":"DRDQN 5 LT","e":46,"m":0.625,"l":0.614,"h":0.635},
{"s":"DRDQN 5 LT","e":47,"m":0.626,"l":0.614,"h":0.636},
{"s":"DRDQN 5 LT","e":48,"m":0.632,"l":0.620,"h":0.641},
{"s":"DRDQN 5 LT","e":49,"m":0.632,"l":0.621,"h":0.642},
{"s":"DRDQN 5 LT","e":50,"m":0.6335,"l":0.622,"h":0.643},
{"s":"DRDQN 5 LT","e":51,"m":0.637,"l":0.625,"h":0.647},
{"s":"DRDQN 5 LT","e":52,"m":0.633,"l":0.622,"h":0.644},
{"s":"DRDQN 5 LT","e":53,"m":0.633,"l":0.622,"h":0.644},
{"s":"DRDQN 5 LT","e":54,"m":0.638,"l":0.626,"h":0.648},
{"s":"DRDQN 5 LT","e":55,"m":0.636,"l":0.624,"h":0.646},
{"s":"DRDQN 5 LT","e":56,"m":0.6385,"l":0.626,"h":0.650},
{"s":"DRDQN 5 LT","e":57,"m":0.642,"l":0.630,"h":0.652},
{"s":"DRDQN 5 LT","e":58,"m":0.637,"l":0.625,"h":0.649},
{"s":"DRDQN 5 LT","e":59,"m":0.639,"l":0.627,"h":0.651},
{"s":"DRDQN 5 LT","e":60,"m":0.641,"l":0.628,"h":0.652},
{"s":"DRDQN 5 LT","e":61,"m":0.641,"l":0.628,"h":0.652},
{"s":"DRDQN 5 LT","e":62,"m":0.641,"l":0.629,"h":0.653},
{"s":"DRDQN 5 LT","e":63,"m":0.642,"l":0.630,"h":0.654},
{"s":"DRDQN 5 LT","e":64,"m":0.644,"l":0.631,"h":0.655},
{"s":"DRDQN 5 LT","e":65,"m":0.645,"l":0.632,"h":0.656},
{"s":"DRDQN 5 LT","e":66,"m":0.644,"l":0.632,"h":0.657},
{"s":"DRDQN 5 LT","e":67,"m":0.646,"l":0.633,"h":0.658},
{"s":"DRDQN 5 LT","e":68,"m":0.647,"l":0.634,"h":0.659},
{"s":"DRDQN 5 LT","e":69,"m":0.6475,"l":0.634,"h":0.660},
{"s":"DRDQN 5 LT","e":70,"m":0.647,"l":0.634,"h":0.660},
{"s":"DRDQN 5 LT","e":71,"m":0.647,"l":0.634,"h":0.659},
{"s":"DRDQN 5 LT","e":72,"m":0.646,"l":0.633,"h":0.658},
{"s":"DRDQN 5 LT","e":73,"m":0.647,"l":0.634,"h":0.659},
{"s":"DRDQN 5 LT","e":74,"m":0.6475,"l":0.634,"h":0.660},
{"s":"DRDQN 5 LT","e":75,"m":0.6485,"l":0.635,"h":0.661},
{"s":"DRDQN 5 LT","e":76,"m":0.648,"l":0.635,"h":0.661},
{"s":"DRDQN 5 LT","e":77,"m":0.6495,"l":0.636,"h":0.661},
{"s":"DRDQN 5 LT","e":78,"m":0.650,"l":0.636,"h":0.662},
{"s":"DRDQN 5 LT","e":79,"m":0.649,"l":0.635,"h":0.662},
{"s":"DRDQN 5 LT","e":80,"m":0.651,"l":0.637,"h":0.664},
{"s":"DRDQN 10 LT","e":1,"m":0.177,"l":0.175,"h":0.179},
{"s":"DRDQN 10 LT","e":2,"m":0.193,"l":0.190,"h":0.196},
{"s":"DRDQN 10 LT","e":3,"m":0.215,"l":0.211,"h":0.219},
{"s":"DRDQN 10 LT","e":4,"m":0.238,"l":0.233,"h":0.243},
{"s":"DRDQN 10 LT","e":5,"m":0.262,"l":0.256,"h":0.268},
{"s":"DRDQN 10 LT","e":6,"m":0.285,"l":0.277,"h":0.293},
{"s":"DRDQN 10 LT","e":7,"m":0.309,"l":0.300,"h":0.318},
{"s":"DRDQN 10 LT","e":8,"m":0.318,"l":0.308,"h":0.328},
{"s":"DRDQN 10 LT","e":9,"m":0.335,"l":0.325,"h":0.345},
{"s":"DRDQN 10 LT","e":10,"m":0.349,"l":0.339,"h":0.359},
{"s":"DRDQN 10 LT","e":11,"m":0.362,"l":0.352,"h":0.372},
{"s":"DRDQN 10 LT","e":12,"m":0.378,"l":0.368,"h":0.388},
{"s":"DRDQN 10 LT","e":13,"m":0.391,"l":0.381,"h":0.401},
{"s":"DRDQN 10 LT","e":14,"m":0.403,"l":0.393,"h":0.413},
{"s":"DRDQN 10 LT","e":15,"m":0.418,"l":0.408,"h":0.428},
{"s":"DRDQN 10 LT","e":16,"m":0.434,"l":0.424,"h":0.444},
{"s":"DRDQN 10 LT","e":17,"m":0.444,"l":0.434,"h":0.454},
{"s":"DRDQN 10 LT","e":18,"m":0.458,"l":0.448,"h":0.468},
{"s":"DRDQN 10 LT","e":19,"m":0.469,"l":0.459,"h":0.479},
{"s":"DRDQN 10 LT","e":20,"m":0.477,"l":0.467,"h":0.487},
{"s":"DRDQN 10 LT","e":21,"m":0.491,"l":0.481,"h":0.501},
{"s":"DRDQN 10 LT","e":22,"m":0.495,"l":0.485,"h":0.505},
{"s":"DRDQN 10 LT","e":23,"m":0.500,"l":0.490,"h":0.510},
{"s":"DRDQN 10 LT","e":24,"m":0.510,"l":0.500,"h":0.520},
{"s":"DRDQN 10 LT","e":25,"m":0.515,"l":0.505,"h":0.525},
{"s":"DRDQN 10 LT","e":26,"m":0.513,"l":0.502,"h":0.523},
{"s":"DRDQN 10 LT","e":27,"m":0.523,"l":0.512,"h":0.533},
{"s":"DRDQN 10 LT","e":28,"m":0.523,"l":0.511,"h":0.534},
{"s":"DRDQN 10 LT","e":29,"m":0.527,"l":0.515,"h":0.538},
{"s":"DRDQN 10 LT","e":30,"m":0.532,"l":0.520,"h":0.543},
{"s":"DRDQN 10 LT","e":31,"m":0.535,"l":0.523,"h":0.546},
{"s":"DRDQN 10 LT","e":32,"m":0.541,"l":0.529,"h":0.552},
{"s":"DRDQN 10 LT","e":33,"m":0.549,"l":0.537,"h":0.560},
{"s":"DRDQN 10 LT","e":34,"m":0.551,"l":0.539,"h":0.562},
{"s":"DRDQN 10 LT","e":35,"m":0.552,"l":0.540,"h":0.563},
{"s":"DRDQN 10 LT","e":36,"m":0.558,"l":0.546,"h":0.569},
{"s":"DRDQN 10 LT","e":37,"m":0.567,"l":0.555,"h":0.578},
{"s":"DRDQN 10 LT","e":38,"m":0.567,"l":0.555,"h":0.578},
{"s":"DRDQN 10 LT","e":39,"m":0.568,"l":0.556,"h":0.579},
{"s":"DRDQN 10 LT","e":40,"m":0.576,"l":0.564,"h":0.587},
{"s":"DRDQN 10 LT","e":41,"m":0.585,"l":0.574,"h":0.595},
{"s":"DRDQN 10 LT","e":42,"m":0.580,"l":0.569,"h":0.590},
{"s":"DRDQN 10 LT","e":43,"m":0.586,"l":0.575,"h":0.596},
{"s":"DRDQN 10 LT","e":44,"m":0.587,"l":0.575,"h":0.597},
{"s":"DRDQN 10 LT","e":45,"m":0.588,"l":0.576,"h":0.598},
{"s":"DRDQN 10 LT","e":46,"m":0.592,"l":0.580,"h":0.602},
{"s":"DRDQN 10 LT","e":47,"m":0.594,"l":0.582,"h":0.604},
{"s":"DRDQN 10 LT","e":48,"m":0.5975,"l":0.586,"h":0.608},
{"s":"DRDQN 10 LT","e":49,"m":0.5966,"l":0.585,"h":0.607},
{"s":"DRDQN 10 LT","e":50,"m":0.5956,"l":0.584,"h":0.606},
{"s":"DRDQN 10 LT","e":51,"m":0.5985,"l":0.587,"h":0.609},
{"s":"DRDQN 10 LT","e":52,"m":0.599,"l":0.588,"h":0.610},
{"s":"DRDQN 10 LT","e":53,"m":0.597,"l":0.586,"h":0.608},
{"s":"DRDQN 10 LT","e":54,"m":0.601,"l":0.590,"h":0.611},
{"s":"DRDQN 10 LT","e":55,"m":0.601,"l":0.590,"h":0.612},
{"s":"DRDQN 10 LT","e":56,"m":0.601,"l":0.590,"h":0.612},
{"s":"DRDQN 10 LT","e":57,"m":0.607,"l":0.596,"h":0.617},
{"s":"DRDQN 10 LT","e":58,"m":0.6025,"l":0.592,"h":0.613},
{"s":"DRDQN 10 LT","e":59,"m":0.6064,"l":0.596,"h":0.617},
{"s":"DRDQN 10 LT","e":60,"m":0.6078,"l":0.598,"h":0.618},
{"s":"DRDQN 10 LT","e":61,"m":0.6088,"l":0.599,"h":0.619},
{"s":"DRDQN 10 LT","e":62,"m":0.6068,"l":0.596,"h":0.617},
{"s":"DRDQN 10 LT","e":63,"m":0.611,"l":0.601,"h":0.621},
{"s":"DRDQN 10 LT","e":64,"m":0.6118,"l":0.602,"h":0.622},
{"s":"DRDQN 10 LT","e":65,"m":0.6128,"l":0.603,"h":0.623},
{"s":"DRDQN 10 LT","e":66,"m":0.6124,"l":0.602,"h":0.622},
{"s":"DRDQN 10 LT","e":67,"m":0.614,"l":0.604,"h":0.624},
{"s":"DRDQN 10 LT","e":68,"m":0.6147,"l":0.605,"h":0.625},
{"s":"DRDQN 10 LT","e":69,"m":0.6167,"l":0.607,"h":0.627},
{"s":"DRDQN 10 LT","e":70,"m":0.6149,"l":0.605,"h":0.625},
{"s":"DRDQN 10 LT","e":71,"m":0.6143,"l":0.604,"h":0.624},
{"s":"DRDQN 10 LT","e":72,"m":0.6143,"l":0.604,"h":0.624},
{"s":"DRDQN 10 LT","e":73,"m":0.6173,"l":0.607,"h":0.627},
{"s":"DRDQN 10 LT","e":74,"m":0.6193,"l":0.609,"h":0.629},
{"s":"DRDQN 10 LT","e":75,"m":0.6213,"l":0.611,"h":0.631},
{"s":"DRDQN 10 LT","e":76,"m":0.6199,"l":0.610,"h":0.630},
{"s":"DRDQN 10 LT","e":77,"m":0.6203,"l":0.610,"h":0.630},
{"s":"DRDQN 10 LT","e":78,"m":0.6183,"l":0.608,"h":0.628},
{"s":"DRDQN 10 LT","e":79,"m":0.6193,"l":0.609,"h":0.629},
{"s":"DRDQN 10 LT","e":80,"m":0.6203,"l":0.611,"h":0.630}
]},
"data": {"name": "d"},
"encoding": {
  "x": {"field": "e", "type": "quantitative",
        "scale": {"domain": [-2.95, 83.95], "nice": false, "zero": false},
        "axis": {"title": "Episodes", "values": [0,10,20,30,40,50,60,70,80],
                 "labelExpr": "datum.value % 20 == 0 ? datum.label : ''",
                 "gridWidth": {"condition": {"test": "datum.value % 20 != 0", "value": 2}, "value": 3.5},
                 "labelPadding": 19, "titleY": 158, "titleX": 1657, "titleBaseline": "alphabetic", "titleAlign": "center"}},
  "color": {"field": "s", "type": "nominal",
            "scale": {"domain": ["DQN 1 LT","DQN 5 LT","DQN 10 LT","DRDQN 1 LT","DRDQN 5 LT","DRDQN 10 LT"],
                      "range": ["#9999FF","#4D4DFF","#000099","#FF88BB","#FF0066","#990040"]},
            "legend": {"symbolType": "stroke", "symbolOpacity": 1, "symbolStrokeWidth": 11.5}}
},
"layer": [
  {"mark": {"type": "area", "opacity": 0.32},
   "encoding": {
     "y": {"field": "l", "type": "quantitative",
           "scale": {"domain": [0.1435, 0.7523], "nice": false, "zero": false},
           "axis": {"title": "Business Reward",
                    "values": [0.15,0.175,0.2,0.225,0.25,0.275,0.3,0.325,0.35,0.375,0.4,0.425,0.45,0.475,0.5,0.525,0.55,0.575,0.6,0.625,0.65,0.675,0.7,0.725,0.75],
                    "format": ".2f",
                    "labelExpr": "round(datum.value*1000) % 50 == 0 ? datum.label : ''",
                    "gridWidth": {"condition": {"test": "round(datum.value*1000) % 50 != 0", "value": 2}, "value": 3.5},
                    "labelPadding": 23, "titleX": -178, "titleY": 688, "titleAngle": -90, "titleBaseline": "alphabetic", "titleAlign": "center"}},
     "y2": {"field": "h"},
     "detail": {"field": "s"}
   }},
  {"mark": {"type": "line", "strokeWidth": 12, "strokeJoin": "round"},
   "encoding": {
     "y": {"field": "m", "type": "quantitative"},
     "detail": {"field": "s"}
   }}
]
}
